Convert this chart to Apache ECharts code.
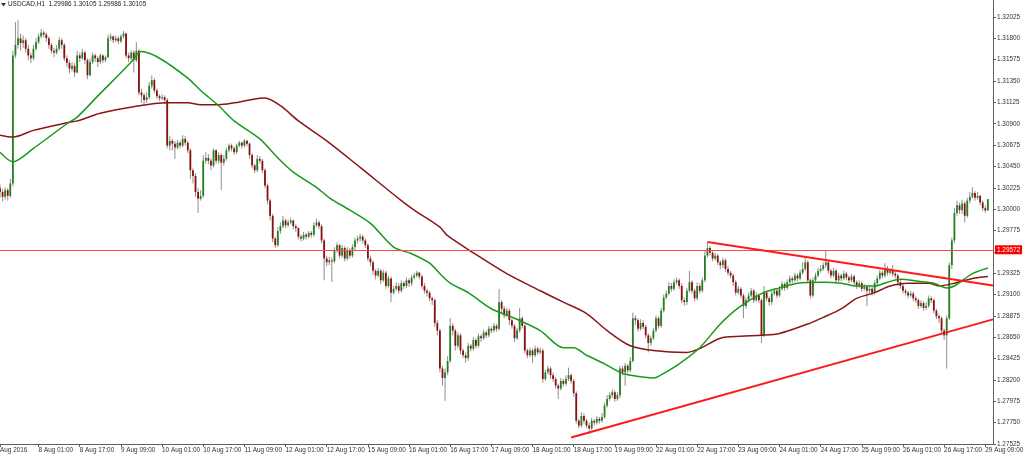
<!DOCTYPE html>
<html><head><meta charset="utf-8">
<script src="https://cdn.jsdelivr.net/npm/echarts@6/dist/echarts.min.js"></script>
<style>html,body{margin:0;padding:0;background:#fff}#c{width:1024px;height:456px}</style>
</head><body><div id="c"></div>
<script>
const symbolName = 'USDCAD,H1';
const headerOHLC = [1.29986, 1.30105, 1.29986, 1.30105];
const firstOpen = 1.3022;
const closes = [
1.3018,1.3013,1.3020,1.3014,1.3027,1.3162,1.3173,1.3180,1.3175,1.3178,
1.3169,1.3162,1.3159,1.3169,1.3176,1.3182,1.3186,1.3184,1.3180,1.3173,
1.3167,1.3165,1.3169,1.3178,1.3173,1.3159,1.3154,1.3148,1.3151,1.3144,
1.3162,1.3159,1.3165,1.3157,1.3141,1.3155,1.3162,1.3159,1.3155,1.3162,
1.3157,1.3160,1.3180,1.3182,1.3178,1.3180,1.3177,1.3182,1.3185,1.3162,
1.3159,1.3165,1.3157,1.3167,1.3123,1.3120,1.3115,1.3118,1.3130,1.3136,
1.3125,1.3119,1.3117,1.3118,1.3115,1.3067,1.3072,1.3069,1.3065,1.3070,
1.3067,1.3074,1.3070,1.3062,1.3041,1.3035,1.3018,1.3011,1.3014,1.3051,
1.3054,1.3051,1.3046,1.3062,1.3051,1.3057,1.3049,1.3053,1.3062,1.3067,
1.3064,1.3060,1.3067,1.3070,1.3067,1.3072,1.3069,1.3057,1.3046,1.3041,
1.3053,1.3051,1.3041,1.3025,1.3009,1.2993,1.2969,1.2962,1.2977,1.2982,
1.2988,1.2983,1.2986,1.2988,1.2982,1.2980,1.2971,1.2969,1.2973,1.2971,
1.2975,1.2973,1.2983,1.2986,1.2982,1.2967,1.2948,1.2944,1.2946,1.2945,
1.2956,1.2962,1.2951,1.2959,1.2948,1.2956,1.2951,1.2960,1.2967,1.2969,
1.2971,1.2967,1.2962,1.2948,1.2944,1.2935,1.2930,1.2935,1.2925,1.2933,
1.2919,1.2927,1.2912,1.2916,1.2919,1.2914,1.2922,1.2919,1.2925,1.2922,
1.2928,1.2930,1.2933,1.2929,1.2919,1.2914,1.2912,1.2906,1.2904,1.2880,
1.2872,1.2832,1.2822,1.2828,1.2840,1.2877,1.2872,1.2856,1.2867,1.2851,
1.2846,1.2843,1.2856,1.2853,1.2862,1.2856,1.2866,1.2864,1.2870,1.2867,
1.2874,1.2872,1.2877,1.2874,1.2902,1.2895,1.2888,1.2893,1.2883,1.2877,
1.2864,1.2872,1.2885,1.2877,1.2851,1.2846,1.2851,1.2846,1.2853,1.2849,
1.2851,1.2821,1.2828,1.2832,1.2825,1.2821,1.2814,1.2811,1.2819,1.2816,
1.2821,1.2825,1.2819,1.2806,1.2777,1.2772,1.2782,1.2777,1.2772,1.2769,
1.2777,1.2775,1.2779,1.2777,1.2781,1.2793,1.2800,1.2804,1.2807,1.2800,
1.2804,1.2832,1.2828,1.2835,1.2830,1.2840,1.2885,1.2883,1.2874,1.2880,
1.2876,1.2867,1.2859,1.2864,1.2872,1.2885,1.2877,1.2893,1.2907,1.2911,
1.2919,1.2916,1.2923,1.2925,1.2919,1.2904,1.2902,1.2914,1.2923,1.2914,
1.2906,1.2919,1.2914,1.2925,1.2951,1.2959,1.2954,1.2948,1.2951,1.2944,
1.2941,1.2946,1.2937,1.2933,1.2930,1.2923,1.2912,1.2916,1.2909,1.2898,
1.2904,1.2909,1.2914,1.2904,1.2909,1.2904,1.2867,1.2912,1.2906,1.2902,
1.2911,1.2914,1.2909,1.2916,1.2921,1.2917,1.2923,1.2927,1.2925,1.2930,
1.2927,1.2933,1.2937,1.2944,1.2925,1.2909,1.2925,1.2930,1.2935,1.2937,
1.2941,1.2944,1.2935,1.2930,1.2935,1.2925,1.2930,1.2927,1.2932,1.2928,
1.2925,1.2929,1.2923,1.2919,1.2922,1.2916,1.2918,1.2914,1.2916,1.2912,
1.2922,1.2927,1.2933,1.2930,1.2937,1.2933,1.2935,1.2932,1.2930,1.2923,
1.2919,1.2914,1.2912,1.2909,1.2911,1.2906,1.2904,1.2898,1.2901,1.2896,
1.2898,1.2906,1.2904,1.2893,1.2887,1.2885,1.2872,1.2867,1.2885,1.2941,
1.2967,1.2996,1.3004,1.2999,1.3006,1.2993,1.3009,1.3013,1.3017,1.3012,
1.3014,1.3007,1.3001,1.29986,1.30105];
const highs = [
1.3026,1.3021,1.3023,1.3022,1.3032,1.3167,1.3197,1.3199,1.3185,1.3183,
1.3180,1.3173,1.3165,1.3173,1.3180,1.3185,1.3190,1.3188,1.3186,1.3182,
1.3175,1.3170,1.3173,1.3181,1.3180,1.3175,1.3162,1.3157,1.3155,1.3154,
1.3167,1.3165,1.3169,1.3167,1.3159,1.3159,1.3165,1.3164,1.3161,1.3164,
1.3163,1.3162,1.3184,1.3185,1.3183,1.3183,1.3182,1.3184,1.3188,1.3186,
1.3165,1.3167,1.3167,1.3176,1.3169,1.3127,1.3122,1.3123,1.3134,1.3141,
1.3138,1.3127,1.3121,1.3121,1.3120,1.3117,1.3077,1.3074,1.3072,1.3073,
1.3072,1.3078,1.3077,1.3072,1.3064,1.3043,1.3038,1.3022,1.3020,1.3057,
1.3060,1.3058,1.3053,1.3064,1.3063,1.3060,1.3059,1.3057,1.3065,1.3069,
1.3069,1.3066,1.3069,1.3072,1.3071,1.3074,1.3073,1.3070,1.3059,1.3048,
1.3057,1.3056,1.3053,1.3043,1.3027,1.3011,1.2995,1.2971,1.2981,1.2986,
1.2993,1.2990,1.2989,1.2991,1.2989,1.2984,1.2981,1.2973,1.2976,1.2975,
1.2977,1.2977,1.2986,1.2990,1.2988,1.2984,1.2969,1.2951,1.2950,1.2949,
1.2960,1.2965,1.2963,1.2962,1.2961,1.2960,1.2959,1.2963,1.2970,1.2972,
1.2974,1.2973,1.2969,1.2964,1.2951,1.2946,1.2937,1.2938,1.2937,1.2936,
1.2935,1.2930,1.2929,1.2919,1.2923,1.2922,1.2925,1.2924,1.2928,1.2927,
1.2931,1.2933,1.2935,1.2934,1.2931,1.2922,1.2916,1.2914,1.2908,1.2906,
1.2883,1.2874,1.2835,1.2832,1.2845,1.2885,1.2880,1.2874,1.2870,1.2869,
1.2853,1.2849,1.2859,1.2858,1.2865,1.2864,1.2869,1.2868,1.2873,1.2872,
1.2877,1.2876,1.2880,1.2879,1.2916,1.2904,1.2898,1.2896,1.2895,1.2885,
1.2879,1.2875,1.2896,1.2887,1.2879,1.2853,1.2854,1.2853,1.2856,1.2855,
1.2854,1.2853,1.2831,1.2835,1.2834,1.2828,1.2823,1.2816,1.2822,1.2821,
1.2825,1.2833,1.2827,1.2821,1.2808,1.2779,1.2786,1.2785,1.2779,1.2775,
1.2780,1.2779,1.2782,1.2781,1.2785,1.2796,1.2804,1.2807,1.2810,1.2809,
1.2807,1.2835,1.2835,1.2838,1.2837,1.2844,1.2891,1.2888,1.2885,1.2884,
1.2883,1.2878,1.2869,1.2867,1.2875,1.2888,1.2887,1.2896,1.2910,1.2914,
1.2923,1.2922,1.2926,1.2928,1.2927,1.2922,1.2907,1.2917,1.2935,1.2925,
1.2916,1.2923,1.2922,1.2928,1.2956,1.2965,1.2961,1.2956,1.2954,1.2953,
1.2946,1.2949,1.2948,1.2940,1.2935,1.2932,1.2925,1.2919,1.2918,1.2911,
1.2907,1.2912,1.2917,1.2916,1.2912,1.2911,1.2906,1.2919,1.2914,1.2908,
1.2914,1.2917,1.2916,1.2919,1.2924,1.2923,1.2926,1.2930,1.2929,1.2933,
1.2932,1.2936,1.2944,1.2949,1.2946,1.2927,1.2928,1.2933,1.2938,1.2941,
1.2944,1.2956,1.2946,1.2937,1.2938,1.2937,1.2933,1.2932,1.2935,1.2934,
1.2930,1.2932,1.2931,1.2925,1.2925,1.2924,1.2921,1.2920,1.2919,1.2918,
1.2925,1.2930,1.2936,1.2935,1.2943,1.2940,1.2938,1.2941,1.2935,1.2932,
1.2925,1.2922,1.2916,1.2914,1.2914,1.2913,1.2908,1.2906,1.2904,1.2903,
1.2902,1.2909,1.2908,1.2906,1.2895,1.2890,1.2887,1.2874,1.2888,1.2944,
1.2970,1.3001,1.3009,1.3007,1.3010,1.3008,1.3012,1.3018,1.3023,1.3019,
1.3018,1.3015,1.3009,1.3004,1.30105];
const lows = [
1.3012,1.3008,1.3010,1.3009,1.3012,1.3024,1.3159,1.3169,1.3167,1.3170,
1.3165,1.3157,1.3154,1.3157,1.3167,1.3174,1.3180,1.3181,1.3176,1.3169,
1.3164,1.3160,1.3163,1.3167,1.3169,1.3156,1.3150,1.3143,1.3145,1.3139,
1.3143,1.3155,1.3157,1.3153,1.3137,1.3140,1.3153,1.3155,1.3150,1.3153,
1.3154,1.3155,1.3159,1.3177,1.3175,1.3176,1.3174,1.3175,1.3180,1.3159,
1.3155,1.3157,1.3144,1.3155,1.3120,1.3112,1.3109,1.3112,1.3116,1.3127,
1.3122,1.3116,1.3114,1.3115,1.3111,1.3064,1.3062,1.3062,1.3053,1.3063,
1.3064,1.3065,1.3067,1.3059,1.3032,1.3027,1.3013,1.2996,1.3009,1.3012,
1.3048,1.3047,1.3041,1.3044,1.3048,1.3048,1.3020,1.3046,1.3051,1.3060,
1.3061,1.3057,1.3058,1.3065,1.3064,1.3065,1.3066,1.3053,1.3043,1.3038,
1.3039,1.3048,1.3038,1.3022,1.3005,1.2988,1.2965,1.2959,1.2960,1.2974,
1.2980,1.2980,1.2981,1.2984,1.2979,1.2976,1.2968,1.2966,1.2967,1.2968,
1.2969,1.2970,1.2971,1.2981,1.2979,1.2964,1.2925,1.2940,1.2941,1.2923,
1.2943,1.2954,1.2948,1.2949,1.2945,1.2946,1.2948,1.2949,1.2957,1.2964,
1.2966,1.2964,1.2959,1.2945,1.2940,1.2931,1.2926,1.2928,1.2921,1.2923,
1.2916,1.2917,1.2902,1.2910,1.2914,1.2911,1.2912,1.2916,1.2917,1.2918,
1.2919,1.2926,1.2928,1.2926,1.2916,1.2911,1.2908,1.2903,1.2899,1.2876,
1.2867,1.2828,1.2814,1.2798,1.2825,1.2838,1.2867,1.2851,1.2853,1.2847,
1.2843,1.2838,1.2840,1.2850,1.2851,1.2853,1.2854,1.2860,1.2862,1.2864,
1.2865,1.2869,1.2870,1.2871,1.2872,1.2891,1.2885,1.2886,1.2878,1.2874,
1.2860,1.2862,1.2870,1.2874,1.2848,1.2843,1.2844,1.2838,1.2844,1.2846,
1.2847,1.2817,1.2819,1.2826,1.2821,1.2818,1.2811,1.2800,1.2809,1.2813,
1.2814,1.2819,1.2816,1.2802,1.2774,1.2769,1.2770,1.2774,1.2769,1.2763,
1.2767,1.2772,1.2773,1.2774,1.2775,1.2779,1.2791,1.2798,1.2801,1.2797,
1.2798,1.2801,1.2825,1.2814,1.2827,1.2828,1.2838,1.2878,1.2871,1.2872,
1.2873,1.2864,1.2849,1.2856,1.2862,1.2870,1.2874,1.2875,1.2891,1.2905,
1.2909,1.2913,1.2914,1.2921,1.2916,1.2901,1.2898,1.2899,1.2912,1.2911,
1.2903,1.2904,1.2911,1.2912,1.2923,1.2949,1.2951,1.2945,1.2946,1.2941,
1.2937,1.2938,1.2934,1.2930,1.2927,1.2919,1.2909,1.2910,1.2906,1.2885,
1.2895,1.2902,1.2907,1.2901,1.2902,1.2901,1.2859,1.2865,1.2903,1.2898,
1.2899,1.2909,1.2906,1.2907,1.2914,1.2914,1.2915,1.2921,1.2922,1.2923,
1.2924,1.2925,1.2931,1.2935,1.2922,1.2906,1.2907,1.2923,1.2928,1.2933,
1.2935,1.2938,1.2932,1.2927,1.2928,1.2922,1.2923,1.2924,1.2925,1.2925,
1.2922,1.2923,1.2919,1.2916,1.2917,1.2913,1.2914,1.2898,1.2911,1.2909,
1.2910,1.2919,1.2925,1.2927,1.2928,1.2930,1.2931,1.2929,1.2927,1.2919,
1.2916,1.2911,1.2909,1.2906,1.2907,1.2903,1.2901,1.2895,1.2896,1.2893,
1.2894,1.2896,1.2901,1.2890,1.2884,1.2880,1.2869,1.2862,1.2832,1.2883,
1.2937,1.2964,1.2993,1.2995,1.2995,1.2986,1.2991,1.3006,1.3011,1.3009,
1.3010,1.3004,1.2998,1.2996,1.29986];

// moving averages read at sample bars (bar index, price)
const maGreenIdx = [0,5,13,26,30,39,46,51,55,62,73,78,85,91,101,108,114,123,128,136,144,153,160,167,171,175,182,191,200,210,219,223,228,235,241,245,254,258,264,272,280,287,296,303,310,320,327,333,340,345,350,357,363,368,371,378,384];
const maGreenVal = [1.3060,1.3050,1.3064,1.3090,1.3097,1.3122,1.3141,1.3155,1.3166,1.3159,1.3138,1.3125,1.3109,1.3093,1.3074,1.3054,1.3039,1.3023,1.3012,1.2999,1.2985,1.2960,1.2953,1.2943,1.2932,1.2922,1.2912,1.2895,1.2885,1.2872,1.2854,1.2854,1.2846,1.2837,1.2828,1.2825,1.2822,1.2827,1.2837,1.2854,1.2879,1.2896,1.2911,1.2917,1.2922,1.2923,1.2922,1.2919,1.2919,1.2923,1.2926,1.2924,1.2922,1.2917,1.2919,1.2932,1.2938];
const maRedIdx = [0,5,13,26,30,39,52,65,73,78,85,91,97,103,109,116,127,140,156,161,171,174,184,197,210,219,228,236,245,254,267,272,280,288,296,303,314,320,327,333,340,346,353,361,365,371,378,384];
const maRedVal = [1.3078,1.3076,1.3083,1.3091,1.3093,1.3101,1.3108,1.3112,1.3112,1.3110,1.3110,1.3112,1.3115,1.3117,1.3109,1.3093,1.3072,1.3044,1.3009,1.2999,1.2981,1.2972,1.2954,1.2932,1.2914,1.2902,1.2890,1.2872,1.2856,1.2851,1.2849,1.2853,1.2864,1.2866,1.2867,1.2869,1.2879,1.2886,1.2895,1.2906,1.2912,1.2919,1.2922,1.2922,1.2919,1.2922,1.2927,1.2929];

const levelLine = 1.29572;
const bidPrice = 1.30105;
const upperTrend = [[275, 1.29653], [386, 1.29196]];
const lowerTrend = [[222, 1.27594], [386, 1.28838]];

const xTickLabels = ['Aug 2016','8 Aug 01:00','8 Aug 17:00','9 Aug 09:00','10 Aug 01:00','10 Aug 17:00','11 Aug 09:00','12 Aug 01:00','12 Aug 17:00','15 Aug 09:00','16 Aug 01:00','16 Aug 17:00','17 Aug 09:00','18 Aug 01:00','18 Aug 17:00','19 Aug 09:00','22 Aug 01:00','22 Aug 17:00','23 Aug 09:00','24 Aug 01:00','24 Aug 17:00','25 Aug 09:00','26 Aug 01:00','26 Aug 17:00','29 Aug 09:00'];
const yTickValues = [1.27525,1.27750,1.27975,1.28200,1.28425,1.28650,1.28875,1.29100,1.29325,1.29550,1.29775,1.30000,1.30225,1.30450,1.30675,1.30900,1.31125,1.31350,1.31575,1.31800,1.32025];

// hourly categories (weekdays only), starting 5 Aug 2016 10:00
const months = ['Jan','Feb','Mar','Apr','May','Jun','Jul','Aug','Sep','Oct','Nov','Dec'];
const categories = [];
let t = Date.UTC(2016, 7, 5, 10);
while (categories.length < closes.length + 2) {
  const d = new Date(t);
  const wd = d.getUTCDay();
  if (wd !== 0 && wd !== 6) {
    categories.push(d.getUTCDate() + ' ' + months[d.getUTCMonth()] + ' ' + String(d.getUTCHours()).padStart(2, '0') + ':00');
  }
  t += 3600000;
}

const candleData = closes.map((c, i) => [i, i === 0 ? firstOpen : closes[i - 1], c, lows[i], highs[i]]);

const FONT = '"Liberation Sans", Arial, sans-serif';
const FS = 6.4;
const showX = (idx, val) => idx === 0 || xTickLabels.indexOf(val) >= 0;

const chart = echarts.init(document.getElementById('c'), null, {renderer: 'canvas'});
chart.setOption({
  animation: false,
  backgroundColor: '#ffffff',
  grid: {left: 0, right: 31, top: 0, bottom: 12, containLabel: false, outerBoundsMode: 'none'},
  xAxis: {
    type: 'category', data: categories, boundaryGap: false,
    axisLine: {show: true, lineStyle: {color: '#606060', width: 1}},
    axisTick: {show: true, interval: showX, length: 3, lineStyle: {color: '#606060'}},
    axisLabel: {show: true, interval: showX, formatter: (v, i) => i === 0 ? xTickLabels[0] : v,
      fontSize: FS, fontFamily: FONT, color: '#333', align: 'left', margin: 3, padding: [0, 0, 0, 0]},
    splitLine: {show: false}
  },
  yAxis: {
    type: 'value', position: 'right', min: 1.27525, max: 1.32204, scale: true,
    axisLine: {show: true, lineStyle: {color: '#606060', width: 1}},
    axisTick: {show: true, customValues: yTickValues, length: 3, inside: false, lineStyle: {color: '#606060'}},
    axisLabel: {show: true, customValues: yTickValues, formatter: v => v.toFixed(5),
      fontSize: FS, fontFamily: FONT, color: '#333', margin: 4},
    splitLine: {show: false}
  },
  graphic: [
    {type: 'polygon', shape: {points: [[1, 3], [6, 3], [3.5, 6.5]]}, style: {fill: '#333'}},
    {type: 'text', left: 8, top: 1, style: {text: symbolName + '  ' + headerOHLC.map(v => v.toFixed(5)).join(' '), font: FS + 'px ' + FONT, fill: '#222'}}
  ],
  series: [
    {
      type: 'custom', name: 'price', data: candleData, clip: true,
      encode: {x: 0, y: [1, 2, 3, 4]},
      renderItem: function (params, api) {
        const i = api.value(0), o = api.value(1), c = api.value(2), l = api.value(3), h = api.value(4);
        const pH = api.coord([i, h]), pL = api.coord([i, l]), pO = api.coord([i, o]), pC = api.coord([i, c]);
        const x = pH[0];
        const top = Math.min(pO[1], pC[1]);
        const bh = Math.max(1, Math.abs(pO[1] - pC[1]));
        return {type: 'group', children: [
          {type: 'line', shape: {x1: x, y1: pH[1], x2: x, y2: pL[1]}, style: {stroke: '#8f8f8f', lineWidth: 1}},
          {type: 'rect', shape: {x: x - 0.9, y: top, width: 1.8, height: bh}, style: {fill: c >= o ? '#247f24' : '#8a0f0f'}}
        ]};
      }
    },
    {
      type: 'line', name: 'slow', data: maRedIdx.map((x, k) => [x, maRedVal[k]]), smooth: 0.3,
      symbol: 'none', lineStyle: {color: '#8b1616', width: 1.5}, z: 3
    },
    {
      type: 'line', name: 'fast', data: maGreenIdx.map((x, k) => [x, maGreenVal[k]]), smooth: 0.3,
      symbol: 'none', lineStyle: {color: '#1a9a1a', width: 1.5}, z: 3,
      markLine: {
        silent: true, symbol: 'none', animation: false, precision: 5,
        data: [
          {yAxis: levelLine, lineStyle: {color: '#ff4a4a', width: 1, type: 'solid'},
            label: {show: true, position: 'end', distance: 2, formatter: levelLine.toFixed(5), backgroundColor: '#ff0000', color: '#fff', fontSize: FS, fontFamily: FONT, padding: [2, 2, 1, 2]}},
          {yAxis: bidPrice, lineStyle: {opacity: 0},
            label: {show: true, position: 'end', distance: 2, formatter: bidPrice.toFixed(5), backgroundColor: '#000', color: '#fff', fontSize: FS, fontFamily: FONT, padding: [2, 2, 1, 2]}},
          [{coord: upperTrend[0], lineStyle: {color: '#ff1a1a', width: 2, type: 'solid'}, label: {show: false}}, {coord: upperTrend[1]}],
          [{coord: lowerTrend[0], lineStyle: {color: '#ff1a1a', width: 2, type: 'solid'}, label: {show: false}}, {coord: lowerTrend[1]}]
        ]
      }
    }
  ]
});
</script>
</body></html>
